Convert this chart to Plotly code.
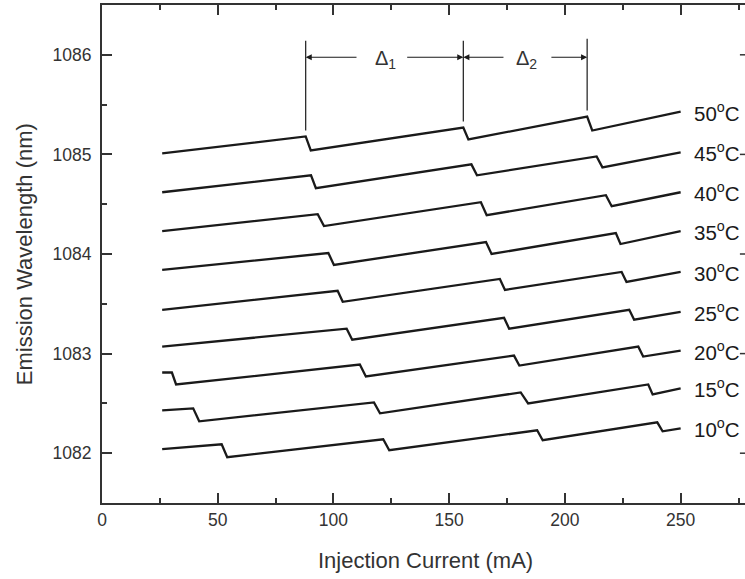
import plotly.graph_objects as go

# ---- data (Injection current in mA, wavelength in nm) ----
temps = ["10", "15", "20", "25", "30", "35", "40", "45", "50"]

cur_10C = [26, 51.7, 54.1, 121.5, 124.1, 188.0, 190.4, 239.9, 242.2, 250]
wl_10C = [1082.04, 1082.09, 1081.96, 1082.14, 1082.03, 1082.23, 1082.13, 1082.31, 1082.22, 1082.25]

cur_15C = [26, 39.4, 42.0, 117.5, 120.1, 180.9, 184.1, 236.0, 237.9, 250]
wl_15C = [1082.43, 1082.45, 1082.32, 1082.51, 1082.40, 1082.61, 1082.50, 1082.69, 1082.59, 1082.65]

cur_20C = [26, 30.2, 32.0, 111.4, 114.0, 178.0, 180.3, 231.7, 233.8, 250]
wl_20C = [1082.81, 1082.81, 1082.69, 1082.89, 1082.77, 1082.98, 1082.88, 1083.07, 1082.97, 1083.03]

cur_25C = [26, 105.7, 108.1, 173.7, 175.9, 227.8, 229.9, 250]
wl_25C = [1083.07, 1083.25, 1083.14, 1083.36, 1083.25, 1083.44, 1083.34, 1083.42]

cur_30C = [26, 101.8, 104.0, 171.9, 174.1, 224.5, 226.6, 250]
wl_30C = [1083.44, 1083.63, 1083.52, 1083.75, 1083.64, 1083.82, 1083.72, 1083.82]

cur_35C = [26, 97.8, 100.2, 165.9, 168.3, 222.0, 224.0, 250]
wl_35C = [1083.84, 1084.01, 1083.89, 1084.12, 1084.00, 1084.21, 1084.10, 1084.23]

cur_40C = [26, 93.2, 95.9, 163.7, 166.2, 217.7, 220.2, 250]
wl_40C = [1084.23, 1084.40, 1084.28, 1084.52, 1084.39, 1084.59, 1084.48, 1084.62]

cur_45C = [26, 90.3, 92.4, 159.6, 162.0, 213.7, 216.2, 250]
wl_45C = [1084.62, 1084.79, 1084.66, 1084.90, 1084.79, 1084.98, 1084.87, 1085.02]

cur_50C = [26, 88.0, 90.2, 156.1, 158.3, 209.6, 211.8, 250]
wl_50C = [1085.01, 1085.18, 1085.04, 1085.27, 1085.15, 1085.38, 1085.24, 1085.43]

# mode-hop markers (currents, mA) and their extent in wavelength
delta_x = [88.0, 156.1, 209.6]
delta_y_bottom = [1085.24, 1085.33, 1085.44]
delta_y_top = [1086.14, 1086.14, 1086.16]
delta_labels = ["Δ<sub>1</sub>", "Δ<sub>2</sub>"]

x_ticks = [0, 50, 100, 150, 200, 250]
y_ticks = [1082, 1083, 1084, 1085, 1086]

curves = [
    (cur_10C, wl_10C), (cur_15C, wl_15C), (cur_20C, wl_20C),
    (cur_25C, wl_25C), (cur_30C, wl_30C), (cur_35C, wl_35C),
    (cur_40C, wl_40C), (cur_45C, wl_45C), (cur_50C, wl_50C),
]

FONT = "Liberation Sans, Arial, Helvetica, sans-serif"
INK = "#1a1a1a"
AX = "#333333"
X_MAX = 277.8

fig = go.Figure()
for xs, ys in curves:
    fig.add_trace(go.Scatter(x=xs, y=ys, mode="lines",
                             line=dict(color=INK, width=2.3),
                             showlegend=False, hoverinfo="skip"))

annotations = []
# temperature labels at the end of each curve
for t, (xs, ys) in zip(temps, curves):
    annotations.append(dict(x=255, y=ys[-1], xref="x", yref="y",
                            text=f"{t}<sup>o</sup>C", showarrow=False,
                            xanchor="left", yanchor="middle",
                            font=dict(family=FONT, size=20.5, color=INK)))

# delta arrows
arrow_y = 1085.976
seg = [(delta_x[0], 110.6), (delta_x[1], 131.2), (delta_x[1], 174.1), (delta_x[2], 193.5)]
for head, tail in seg:
    annotations.append(dict(x=head, y=arrow_y, ax=tail, ay=arrow_y,
                            xref="x", yref="y", axref="x", ayref="y",
                            text="", showarrow=True, arrowhead=2, arrowsize=1.1,
                            arrowwidth=1.1, arrowcolor=INK, standoff=0, startstandoff=0))
for i, lab in enumerate(delta_labels):
    annotations.append(dict(x=(delta_x[i] + delta_x[i + 1]) / 2 + (0.3 if i == 0 else 0.5),
                            y=arrow_y - 0.02, xref="x", yref="y", text=lab, showarrow=False,
                            xanchor="center", yanchor="middle",
                            font=dict(family=FONT, size=20, color=AX)))

# axis titles
annotations.append(dict(x=0.503, y=-0.116, xref="paper", yref="paper",
                        text="Injection Current (mA)", showarrow=False,
                        xanchor="center", yanchor="middle",
                        font=dict(family=FONT, size=22, color=AX)))
annotations.append(dict(x=-0.121, y=0.5, xref="paper", yref="paper",
                        text="Emission Wavelength (nm)", showarrow=False, textangle=-90,
                        xanchor="center", yanchor="middle",
                        font=dict(family=FONT, size=22, color=AX)))

shapes = []
for xv, yb, yt in zip(delta_x, delta_y_bottom, delta_y_top):
    shapes.append(dict(type="line", xref="x", yref="y", x0=xv, x1=xv, y0=yb, y1=yt,
                       line=dict(color=INK, width=1.2)))
# right-axis tick stubs (right axis lies just beyond the visible area)
for yv in y_ticks:
    shapes.append(dict(type="line", xref="x", yref="y", x0=275.6, x1=X_MAX, y0=yv, y1=yv,
                       line=dict(color=AX, width=1.5)))

fig.update_layout(
    width=745, height=579,
    margin=dict(l=102, r=0, t=5, b=76),
    paper_bgcolor="white", plot_bgcolor="white",
    annotations=annotations, shapes=shapes,
    xaxis=dict(range=[0, X_MAX], tickvals=x_ticks, ticks="inside", ticklen=10,
               tickwidth=1.5, tickcolor=AX, showline=True, linecolor=AX, linewidth=2,
               mirror="ticks", showgrid=False, zeroline=False,
               tickfont=dict(family=FONT, size=17.5, color=AX),
               minor=dict(dtick=25, tick0=0, ticks="inside", ticklen=5,
                          tickwidth=1.5, tickcolor=AX, showgrid=False)),
    yaxis=dict(range=[1081.5, 1086.5], tickvals=y_ticks, ticks="inside", ticklen=10,
               tickwidth=1.5, tickcolor=AX, showline=True, linecolor=AX, linewidth=2,
               mirror=False, showgrid=False, zeroline=False, ticklabelstandoff=5,
               tickfont=dict(family=FONT, size=17.5, color=AX),
               minor=dict(dtick=0.5, tick0=1081.5, ticks="inside", ticklen=5,
                          tickwidth=1.5, tickcolor=AX, showgrid=False)),
)

fig.write_html("out.html")
